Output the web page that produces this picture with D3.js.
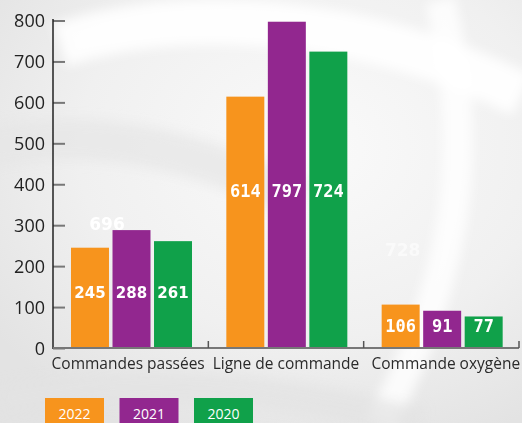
<!DOCTYPE html>
<html>
<head>
<meta charset="utf-8">
<script src="https://cdn.jsdelivr.net/npm/d3@7"></script>
<style>
  html, body { margin: 0; padding: 0; background: #ececec; }
  svg { display: block; }
</style>
</head>
<body>
<div id="chart"></div>
<script>
(function(){
  'use strict';

  // data
  var categories = ["Commandes passées", "Ligne de commande", "Commande oxygène"];
  var years = ["2022", "2021", "2020"];
  var v2022 = [245, 614, 106];
  var v2021 = [288, 797, 91];
  var v2020 = [261, 724, 77];
  var yTicks = [0, 100, 200, 300, 400, 500, 600, 700, 800];
  // stray labels floating over the background
  var ghostCat = ["Commandes passées", "Commande oxygène"];
  var ghostVal = ["696", "728"];

  var colors = ["#f7941d", "#92278f", "#10a14a"];
  var series = [v2022, v2021, v2020];
  // where the value labels sit, as a share of the shortest bar of each group
  var labelLevel = [0.5, 0.6, 0.5];
  // category labels are not quite centred in the original
  var catShift = [-2.5, 0, 4.5];

  var W = 522, H = 423;
  var svg = d3.select("#chart").append("svg")
      .attr("width", W).attr("height", H);

  // background: grey with soft white sweeps
  var defs = svg.append("defs");
  var bg = defs.append("radialGradient").attr("id", "bg")
      .attr("cx", "0.6").attr("cy", "0.35").attr("r", "0.75");
  bg.append("stop").attr("offset", "0").attr("stop-color", "#fafafa");
  bg.append("stop").attr("offset", "0.6").attr("stop-color", "#f0f0f0");
  bg.append("stop").attr("offset", "1").attr("stop-color", "#e3e3e3");
  defs.append("filter").attr("id", "blur")
      .append("feGaussianBlur").attr("stdDeviation", 6);

  svg.append("rect").attr("width", W).attr("height", H).attr("fill", "url(#bg)");
  var sweeps = svg.append("g").attr("filter", "url(#blur)").attr("fill", "none");
  sweeps.append("path").attr("d", "M60,45 C180,5 360,15 522,95")
      .attr("stroke", "#ffffff").attr("stroke-width", 45).attr("opacity", 0.9);
  sweeps.append("path").attr("d", "M-20,150 C100,120 220,160 300,200")
      .attr("stroke", "#e6e6e6").attr("stroke-width", 40).attr("opacity", 0.7);
  sweeps.append("path").attr("d", "M440,0 C470,120 470,260 380,423")
      .attr("stroke", "#ffffff").attr("stroke-width", 30).attr("opacity", 0.8);
  sweeps.append("path").attr("d", "M0,400 C120,380 250,380 420,423")
      .attr("stroke", "#e2e2e2").attr("stroke-width", 30).attr("opacity", 0.7);

  var x0 = d3.scaleBand().domain(categories).range([53, 519]);
  var x1 = d3.scaleBand().domain(years).range([18, 139]).paddingInner(0.085);
  var y = d3.scaleLinear().domain([0, 800]).range([348, 20.5]);

  // bars
  var groups = svg.append("g").selectAll("g")
    .data(categories).enter().append("g")
      .attr("transform", function(d){ return "translate(" + x0(d) + ",0)"; });

  groups.selectAll("rect")
    .data(function(d, i){ return years.map(function(yr, j){ return {yr: yr, v: series[j][i], c: j}; }); })
    .enter().append("rect")
      .attr("x", function(d){ return x1(d.yr); })
      .attr("width", x1.bandwidth())
      .attr("y", function(d){ return y(d.v); })
      .attr("height", function(d){ return y(0) - y(d.v); })
      .attr("fill", function(d){ return colors[d.c]; });

  // value labels: first group proportional font, the others monospace
  groups.each(function(cat, i){
    var vals = series.map(function(s){ return s[i]; });
    var level = d3.min(vals) * labelLevel[i];
    d3.select(this).selectAll("text.val")
      .data(years.map(function(yr, j){ return {yr: yr, v: vals[j]}; }))
      .enter().append("text")
        .attr("class", "val")
        .attr("x", function(d){ return x1(d.yr) + x1.bandwidth() / 2; })
        .attr("y", y(level))
        .attr("text-anchor", "middle")
        .attr("fill", "#fff")
        .attr("font-weight", "bold")
        .attr("font-family", i === 0 ? "DejaVu Sans" : "DejaVu Sans Mono")
        .attr("font-size", i === 0 ? "15px" : "17px")
        .text(function(d){ return d.v; });
  });

  // ghost labels
  svg.append("g").selectAll("text")
    .data(ghostVal).enter().append("text")
      .attr("x", function(d, i){ return x0(ghostCat[i]) + (i === 0 ? 54 : 39); })
      .attr("y", function(d, i){ return i === 0 ? 230 : 256; })
      .attr("text-anchor", "middle")
      .attr("fill", "#fff")
      .attr("opacity", function(d, i){ return i === 0 ? 1 : 0.55; })
      .attr("font-family", "DejaVu Sans")
      .attr("font-weight", "bold")
      .attr("font-size", "17px")
      .text(function(d){ return d; });

  // y axis
  var yAxis = svg.append("g")
      .attr("transform", "translate(53,0)")
      .call(d3.axisRight(y).tickValues(yTicks).tickSize(12).tickFormat(d3.format("d")));
  yAxis.select(".domain").remove();
  yAxis.selectAll(".tick line").attr("stroke", "#777").attr("stroke-width", 2);
  yAxis.selectAll(".tick text")
      .attr("x", -8).attr("dy", "0.36em")
      .attr("text-anchor", "end")
      .attr("fill", "#222")
      .attr("font-family", "Open Sans")
      .attr("font-size", "18px");
  svg.append("line")
      .attr("x1", 53).attr("x2", 53).attr("y1", 19).attr("y2", 349)
      .attr("stroke", "#222").attr("stroke-width", 1.5);

  // x axis
  var xg = svg.append("g").attr("transform", "translate(0,348)");
  xg.append("line").attr("x1", 53).attr("x2", 519)
      .attr("stroke", "#777").attr("stroke-width", 2);
  xg.selectAll("line.tk")
    .data(categories.slice(1).map(function(c){ return x0(c); }).concat([519]))
    .enter().append("line").attr("class", "tk")
      .attr("x1", function(d){ return d; }).attr("x2", function(d){ return d; })
      .attr("y1", -7).attr("y2", 0)
      .attr("stroke", "#555").attr("stroke-width", 1.5);
  xg.selectAll("text")
    .data(categories).enter().append("text")
      .attr("x", function(d, i){ return x0(d) + x0.bandwidth() / 2 + catShift[i]; })
      .attr("y", 21)
      .attr("text-anchor", "middle")
      .attr("fill", "#2a2a2a")
      .attr("font-family", "Open Sans")
      .attr("font-size", "15.5px")
      .text(function(d){ return d; });

  // legend
  var leg = svg.append("g").selectAll("g")
    .data(years).enter().append("g")
      .attr("transform", function(d, i){ return "translate(" + (45 + i * 74.5) + ",398)"; });
  leg.append("rect").attr("width", 59).attr("height", 30)
      .attr("fill", function(d, i){ return colors[i]; });
  leg.append("text").attr("x", 29.5).attr("y", 20.5)
      .attr("text-anchor", "middle").attr("fill", "#fff")
      .attr("font-family", "Open Sans").attr("font-size", "14px")
      .text(function(d){ return d; });

})();
</script>
</body>
</html>
